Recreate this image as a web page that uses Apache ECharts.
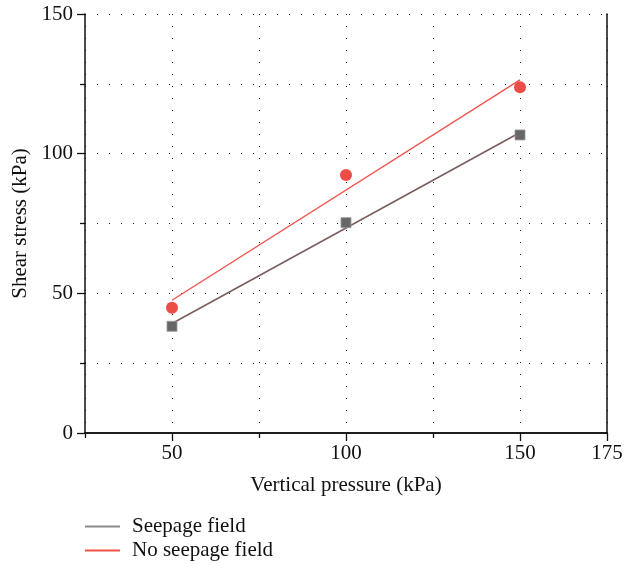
<!DOCTYPE html>
<html>
<head>
<meta charset="utf-8">
<script src="https://cdn.jsdelivr.net/npm/echarts@6/dist/echarts.min.js"></script>
<style>
  html, body { margin: 0; padding: 0; background: #fff; }
  #chart { width: 634px; height: 565px; }
</style>
</head>
<body>
<div id="chart"></div>
<script>
// Measured shear stress at each vertical pressure (kPa)
const pressure = [50, 100, 150];
const seepageStress = [38.2, 75.3, 106.7];
const noSeepageStress = [44.8, 92.4, 123.8];

// Fitted trend lines, endpoints at 50 and 150 kPa
const fitPressure = [50, 150];
const seepageFit = [39.2, 107.6];
const noSeepageFit = [47.5, 126.4];

// Axis ticks
const xMajorTicks = [50, 100, 150, 175];
const xMinorTicks = [25, 75, 125];
const yMajorTicks = [0, 50, 100, 150];
const yMinorTicks = [25, 75, 125];

const seriesNames = ['Seepage field', 'No seepage field'];

const FONT = 'Liberation Serif';
const FS = 21;
const pairs = (xs, ys) => xs.map((x, i) => [x, ys[i]]);

const dotted = { color: '#222', width: 1, type: [1, 11] };

const chart = echarts.init(document.getElementById('chart'));
chart.setOption({
  animation: false,
  backgroundColor: '#fff',
  grid: { left: 85, right: 27, top: 14, bottom: 132 },
  legend: {
    orient: 'vertical',
    left: 85,
    top: 516,
    padding: 0,
    itemWidth: 35,
    itemHeight: 2,
    itemGap: 3,
    icon: 'rect',
    data: [
      { name: seriesNames[0], itemStyle: { color: '#8a8a8a' } },
      { name: seriesNames[1], itemStyle: { color: '#f0524c' } }
    ],
    textStyle: { fontFamily: FONT, fontSize: FS, color: '#111', padding: [0, 0, 0, 7] }
  },
  xAxis: [
    {
      type: 'value', position: 'bottom', min: 25, max: 175, interval: 25,
      name: 'Vertical pressure (kPa)', nameLocation: 'middle', nameGap: 42,
      nameTextStyle: { fontFamily: FONT, fontSize: FS, color: '#111' },
      axisLine: { show: true, lineStyle: { color: '#111', width: 1.5 } },
      axisTick: { show: true, length: 8, customValues: xMajorTicks, lineStyle: { color: '#111', width: 1.3 } },
      axisLabel: { customValues: xMajorTicks, margin: 10, fontFamily: FONT, fontSize: FS, color: '#111' },
      splitLine: { show: true, lineStyle: dotted }
    },
    {
      type: 'value', position: 'bottom', min: 25, max: 175, interval: 25,
      axisLine: { show: false },
      axisTick: { show: true, length: 5, customValues: xMinorTicks, lineStyle: { color: '#111', width: 1.3 } },
      axisLabel: { show: false },
      splitLine: { show: true, lineStyle: dotted }
    },
    {
      type: 'value', position: 'top', min: 25, max: 175,
      axisLine: { show: true, lineStyle: { color: '#111', width: 1.5 } },
      axisTick: { show: false }, axisLabel: { show: false }, splitLine: { show: false }
    }
  ],
  yAxis: [
    {
      type: 'value', position: 'left', min: 0, max: 150, interval: 25,
      name: 'Shear stress (kPa)', nameLocation: 'middle', nameGap: 52,
      nameTextStyle: { fontFamily: FONT, fontSize: FS, color: '#111' },
      axisLine: { show: true, lineStyle: { color: '#111', width: 1.5 } },
      axisTick: { show: true, length: 8, customValues: yMajorTicks, lineStyle: { color: '#111', width: 1.3 } },
      axisLabel: { customValues: yMajorTicks, margin: 12, fontFamily: FONT, fontSize: FS, color: '#111' },
      splitLine: { show: true, lineStyle: dotted }
    },
    {
      type: 'value', position: 'left', min: 0, max: 150, interval: 25,
      axisLine: { show: false },
      axisTick: { show: true, length: 5, customValues: yMinorTicks, lineStyle: { color: '#111', width: 1.3 } },
      axisLabel: { show: false },
      splitLine: { show: true, lineStyle: dotted }
    },
    {
      type: 'value', position: 'right', min: 0, max: 150,
      axisLine: { show: true, lineStyle: { color: '#111', width: 1.5 } },
      axisTick: { show: false }, axisLabel: { show: false }, splitLine: { show: false }
    }
  ],
  series: [
    {
      name: seriesNames[0], type: 'line', showSymbol: false, silent: true,
      data: pairs(fitPressure, seepageFit),
      lineStyle: { color: '#7b5e5e', width: 1.6 }, itemStyle: { color: '#8a8a8a' }, z: 3
    },
    {
      name: seriesNames[1], type: 'line', showSymbol: false, silent: true,
      data: pairs(fitPressure, noSeepageFit),
      lineStyle: { color: '#f0524c', width: 1.3 }, itemStyle: { color: '#f0524c' }, z: 3
    },
    {
      name: 'seepage-points', type: 'scatter', symbol: 'rect', symbolSize: 10,
      data: pairs(pressure, seepageStress),
      itemStyle: { color: '#676767', borderColor: '#9a9a9a', borderWidth: 0.8, opacity: 1 }, z: 4
    },
    {
      name: 'no-seepage-points', type: 'scatter', symbol: 'circle', symbolSize: 12,
      data: pairs(pressure, noSeepageStress),
      itemStyle: { color: '#ec4d47', opacity: 1 }, z: 4
    }
  ]
});
</script>
</body>
</html>
